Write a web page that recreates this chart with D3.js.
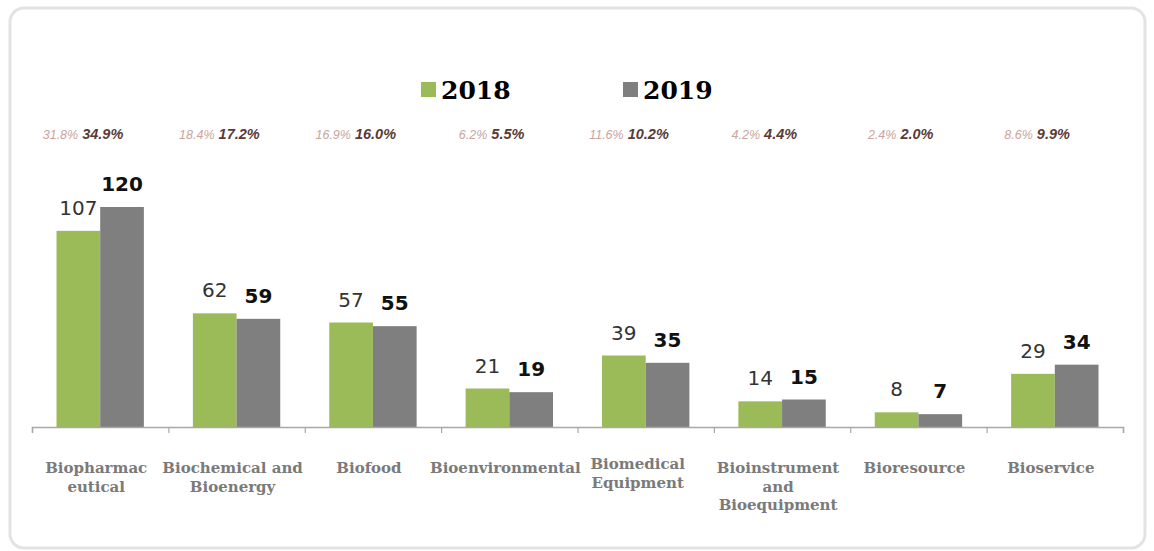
<!DOCTYPE html>
<html>
<head>
<meta charset="utf-8">
<script src="https://cdn.jsdelivr.net/npm/d3@7"></script>
<style>
  html, body { margin: 0; padding: 0; background: #fff; }
  svg { display: block; }
</style>
</head>
<body>
<svg id="chart" width="1154" height="551"></svg>
<script>
// Bio-industry production by sector (trillion KRW) and sector shares, 2018 vs 2019
const categories = [
  "Biopharmaceutical", "Biochemical and Bioenergy", "Biofood", "Bioenvironmental",
  "Biomedical Equipment", "Bioinstrument and Bioequipment", "Bioresource", "Bioservice"
];
const tickLabels = [
  ["Biopharmac", "eutical"], ["Biochemical and", "Bioenergy"], ["Biofood"], ["Bioenvironmental"],
  ["Biomedical", "Equipment"], ["Bioinstrument", "and", "Bioequipment"], ["Bioresource"], ["Bioservice"]
];
const years = ["2018", "2019"];
const values2018 = [107, 62, 57, 21, 39, 14, 8, 29];
const values2019 = [120, 59, 55, 19, 35, 15, 7, 34];
const share2018 = ["31.8%", "18.4%", "16.9%", "6.2%", "11.6%", "4.2%", "2.4%", "8.6%"];
const share2019 = ["34.9%", "17.2%", "16.0%", "5.5%", "10.2%", "4.4%", "2.0%", "9.9%"];

const colors = { "2018": "#9bbb59", "2019": "#7f7f7f" };

const svg = d3.select("#chart");

// rounded outer frame
svg.append("rect")
  .attr("x", 10).attr("y", 8).attr("width", 1135).attr("height", 540)
  .attr("rx", 14).attr("ry", 14)
  .attr("fill", "#fff").attr("stroke", "#e3e3e3").attr("stroke-width", 3);

const baseY = 427;
const x = d3.scaleBand().domain(categories).range([32, 1123]).paddingInner(0).paddingOuter(0);
const xs = d3.scaleBand().domain(years).range([24.5, x.bandwidth() - 24.5]).padding(0);
const y = d3.scaleLinear().domain([0, 120]).range([baseY, 207]);

const rows = categories.map((c, i) => ({
  cat: c,
  vals: [
    { year: "2018", v: values2018[i] },
    { year: "2019", v: values2019[i] }
  ],
  s18: share2018[i], s19: share2019[i], lines: tickLabels[i]
}));

// bars
const groups = svg.append("g").selectAll("g").data(rows).join("g")
  .attr("transform", d => `translate(${x(d.cat)},0)`);

groups.selectAll("rect").data(d => d.vals).join("rect")
  .attr("x", d => xs(d.year))
  .attr("width", xs.bandwidth())
  .attr("y", d => y(d.v))
  .attr("height", d => baseY - y(d.v))
  .attr("fill", d => colors[d.year]);

// value labels
groups.selectAll("text.val").data(d => d.vals).join("text")
  .attr("class", "val")
  .attr("x", d => xs(d.year) + xs.bandwidth() / 2)
  .attr("y", d => y(d.v) - 16)
  .attr("text-anchor", "middle")
  .attr("font-family", "'DejaVu Sans', sans-serif")
  .attr("font-size", 20)
  .attr("font-weight", d => d.year === "2019" ? "bold" : "normal")
  .attr("fill", d => d.year === "2019" ? "#111" : "#333")
  .text(d => d.v);

// sector share row
const shareRow = svg.append("g");
shareRow.selectAll("text.s18").data(rows).join("text")
  .attr("class", "s18")
  .attr("x", d => x(d.cat) + x.bandwidth() / 2 - 22)
  .attr("y", 139)
  .attr("text-anchor", "end")
  .attr("font-family", "'Liberation Sans', Arial, sans-serif")
  .attr("font-style", "italic")
  .attr("font-size", 12.5)
  .attr("fill", "#c9a59e")
  .text(d => d.s18);
shareRow.selectAll("text.s19").data(rows).join("text")
  .attr("class", "s19")
  .attr("x", d => x(d.cat) + x.bandwidth() / 2 - 18)
  .attr("y", 139)
  .attr("text-anchor", "start")
  .attr("font-family", "'Liberation Sans', Arial, sans-serif")
  .attr("font-style", "italic")
  .attr("font-weight", "bold")
  .attr("font-size", 14.5)
  .attr("fill", "#5a3a38")
  .text(d => d.s19);

// category axis: ticks sit on the band boundaries
const edges = d3.scaleLinear().domain([0, categories.length]).range(x.range());
const axis = svg.append("g")
  .attr("transform", `translate(0,${baseY})`)
  .call(d3.axisBottom(edges).tickValues(d3.range(categories.length + 1)).tickSize(6).tickFormat(""));
axis.select(".domain").attr("stroke", "#a8a8a8").attr("stroke-width", 1.5);
axis.selectAll(".tick line").attr("stroke", "#a8a8a8").attr("stroke-width", 1.2);

// category labels, set slightly left of the band centre
const labelShift = { "Biomedical Equipment": { dx: -4, dy: -4 } };
const labels = svg.append("g").selectAll("text").data(rows).join("text")
  .attr("text-anchor", "middle")
  .attr("font-family", "'DejaVu Serif', serif")
  .attr("font-weight", "bold")
  .attr("font-size", 15)
  .attr("fill", "#7a7a7a")
  .attr("transform", d => {
    const s = labelShift[d.cat] || { dx: 0, dy: 0 };
    return `translate(${x(d.cat) + x.bandwidth() / 2 - 4 + s.dx},${473 + s.dy})`;
  });
labels.selectAll("tspan").data(d => d.lines).join("tspan")
  .attr("x", 0)
  .attr("y", (d, i) => i * 18.5)
  .text(d => d);

// legend
const legendX = { "2018": 421, "2019": 623 };
const legend = svg.append("g").selectAll("g").data(years).join("g")
  .attr("transform", d => `translate(${legendX[d]},0)`);
legend.append("rect")
  .attr("x", 0).attr("y", 82).attr("width", 15).attr("height", 15)
  .attr("fill", d => colors[d]);
legend.append("text")
  .attr("x", 20).attr("y", 99)
  .attr("font-family", "'DejaVu Serif', serif")
  .attr("font-weight", "bold")
  .attr("font-size", 25)
  .attr("fill", "#000")
  .text(d => d);
</script>
</body>
</html>
